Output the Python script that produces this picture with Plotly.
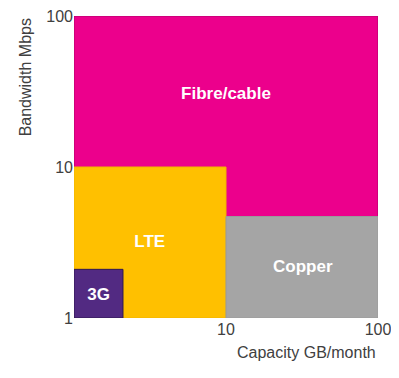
import plotly.graph_objects as go

# Regions: name, x range (capacity GB/month), y range (bandwidth Mbps)
names = ["Fibre/cable", "LTE", "Copper", "3G"]
x_lo = [1, 1, 10, 1]
x_hi = [100, 10, 100, 2.1]
y_lo = [1, 1, 1, 1]
y_hi = [100, 10, 4.7, 2.1]
fill_colors = ["#EC008C", "#FFC000", "#A5A5A5", "#522A82"]
line_colors = ["#B0006A", "#F0B400", "#9A9A9A", "#2E1850"]

# Label positions (data coordinates)
label_x = [10, 3.15, 32, 1.45]
label_y = [30, 3.15, 2.15, 1.4]

tick_vals = [1, 10, 100]

fig = go.Figure()
for i, n in enumerate(names):
    fig.add_trace(go.Scatter(
        x=[x_lo[i], x_hi[i], x_hi[i], x_lo[i], x_lo[i]],
        y=[y_lo[i], y_lo[i], y_hi[i], y_hi[i], y_lo[i]],
        mode="lines", fill="toself", fillcolor=fill_colors[i],
        line=dict(color=line_colors[i], width=1),
        hoverinfo="skip", showlegend=False,
    ))

fig.add_trace(go.Scatter(
    x=label_x, y=label_y, mode="text", text=names,
    textposition="middle center",
    textfont=dict(family="Liberation Sans, Arial, sans-serif", size=17, color="white", weight="bold"),
    hoverinfo="skip", showlegend=False,
))

# page body has an 8px default margin, so the figure is sized to fit the window
fig.update_layout(
    width=391, height=370,
    margin=dict(l=66, r=21, t=8, b=60),
    paper_bgcolor="white", plot_bgcolor="white",
    font=dict(family="Liberation Sans, Arial, sans-serif", size=16, color="#404040"),
    xaxis=dict(type="log", range=[0, 2], tickvals=tick_vals[1:], ticktext=["10", "100"],
               showgrid=False, zeroline=False, showline=False, ticks="", automargin=False,
               ticklabeloverflow="allow", tickfont=dict(size=16, color="#404040")),
    yaxis=dict(type="log", range=[0, 2], tickvals=tick_vals, ticktext=["1", "10", "100"],
               showgrid=False, zeroline=False, showline=False, ticks="", automargin=False,
               ticklabeloverflow="allow", tickfont=dict(size=16, color="#404040")),
    annotations=[
        dict(text="Capacity GB/month", xref="paper", yref="paper", x=1, y=-0.08,
             xanchor="right", yanchor="top", showarrow=False,
             font=dict(size=16, color="#404040")),
        dict(text="Bandwidth Mbps", xref="paper", yref="paper", x=-0.16, y=1.0,
             xanchor="center", yanchor="top", textangle=-90, showarrow=False,
             font=dict(size=16, color="#404040")),
    ],
)

fig.write_html("out.html")
